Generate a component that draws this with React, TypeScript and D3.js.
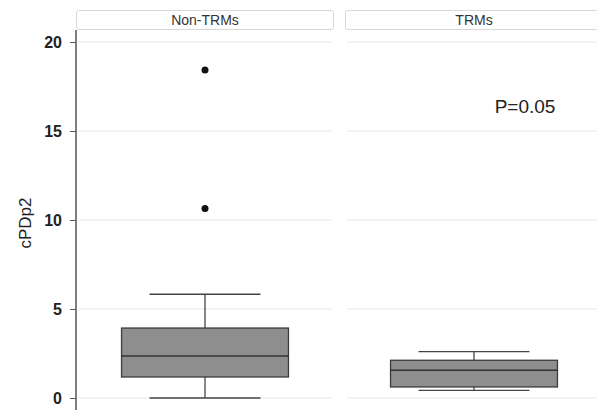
import * as d3 from "d3";
import { useEffect, useRef } from "react";

const groups = ["Non-TRMs", "TRMs"];
const whiskerLow = [0, 0.43];
const q1 = [1.18, 0.62];
const medians = [2.36, 1.56];
const q3 = [3.93, 2.12];
const whiskerHigh = [5.83, 2.6];
const outliers = [[18.43, 10.65], []];
const yTicks = [0, 5, 10, 15, 20];
const yLabel = "cPDp2";
const pLabel = "P=0.05";

const W = 597;
const H = 410;
const FONT = "'Liberation Sans', Arial, sans-serif";

export default function App() {
  const ref = useRef<SVGSVGElement | null>(null);

  useEffect(() => {
    if (!ref.current) return;
    const svg = d3.select(ref.current);
    svg.selectAll("*").remove();

    const x = d3.scaleBand<string>().domain(groups).range([76, 603]).paddingInner(11 / 269).paddingOuter(0);
    const y = d3.scaleLinear().domain([0, 20]).range([398, 42]);
    const bw = x.bandwidth();
    const boxW = bw * 0.647;
    const capW = bw * 0.43;

    // strips + grid per panel
    groups.forEach((g) => {
      const x0 = x(g) as number;
      svg
        .append("rect")
        .attr("x", x0 + 0.5)
        .attr("y", 10.5)
        .attr("width", bw - 1)
        .attr("height", 19)
        .attr("rx", 2)
        .attr("fill", "#fff")
        .attr("stroke", "#d8d8d8");
      svg
        .append("text")
        .attr("x", x0 + bw / 2)
        .attr("y", 25)
        .attr("text-anchor", "middle")
        .attr("font-family", FONT)
        .attr("font-size", 14)
        .attr("fill", "#333")
        .text(g);
      svg
        .append("g")
        .selectAll("line")
        .data(yTicks)
        .join("line")
        .attr("x1", x0 + 2)
        .attr("x2", x0 + bw - 2)
        .attr("y1", (d) => y(d))
        .attr("y2", (d) => y(d))
        .attr("stroke", "#e8e8e8")
        .attr("stroke-width", 1.2);
    });

    // y axis
    const axis = svg
      .append("g")
      .attr("transform", "translate(76,0)")
      .call(d3.axisLeft(y).tickValues(yTicks).tickSize(6).tickPadding(8).tickSizeOuter(0));
    axis.select(".domain").remove();
    axis
      .append("line")
      .attr("y1", 30)
      .attr("y2", H)
      .attr("stroke", "#555")
      .attr("stroke-width", 1.5);
    axis.selectAll(".tick line").attr("stroke", "#555");
    axis
      .selectAll(".tick text")
      .attr("font-family", FONT)
      .attr("font-size", 16)
      .attr("font-weight", "bold")
      .attr("fill", "#222");

    svg
      .append("text")
      .attr("transform", `translate(31,223) rotate(-90)`)
      .attr("text-anchor", "middle")
      .attr("font-family", FONT)
      .attr("font-size", 17)
      .attr("fill", "#222")
      .text(yLabel);

    // boxes
    groups.forEach((g, i) => {
      const cx = (x(g) as number) + bw / 2;
      const b = svg.append("g");
      b.append("line")
        .attr("x1", cx).attr("x2", cx)
        .attr("y1", y(whiskerHigh[i])).attr("y2", y(q3[i]))
        .attr("stroke", "#444").attr("stroke-width", 1.3);
      b.append("line")
        .attr("x1", cx).attr("x2", cx)
        .attr("y1", y(whiskerLow[i])).attr("y2", y(q1[i]))
        .attr("stroke", "#444").attr("stroke-width", 1.3);
      [whiskerHigh[i], whiskerLow[i]].forEach((v) =>
        b.append("line")
          .attr("x1", cx - capW / 2).attr("x2", cx + capW / 2)
          .attr("y1", y(v)).attr("y2", y(v))
          .attr("stroke", "#444").attr("stroke-width", 1.3)
      );
      b.append("rect")
        .attr("x", cx - boxW / 2)
        .attr("width", boxW)
        .attr("y", y(q3[i]))
        .attr("height", y(q1[i]) - y(q3[i]))
        .attr("fill", "#8e8e8e")
        .attr("stroke", "#3c3c3c")
        .attr("stroke-width", 1.3);
      b.append("line")
        .attr("x1", cx - boxW / 2).attr("x2", cx + boxW / 2)
        .attr("y1", y(medians[i])).attr("y2", y(medians[i]))
        .attr("stroke", "#333").attr("stroke-width", 1.3);
      b.selectAll("circle")
        .data(outliers[i])
        .join("circle")
        .attr("cx", cx)
        .attr("cy", (d) => y(d))
        .attr("r", 3.5)
        .attr("fill", "#111");
    });

    svg
      .append("text")
      .attr("x", 525)
      .attr("y", 113)
      .attr("text-anchor", "middle")
      .attr("font-family", FONT)
      .attr("font-size", 19)
      .attr("fill", "#222")
      .text(pLabel);
  }, []);

  return (
    <svg
      ref={ref}
      width={W}
      height={H}
      style={{ position: "absolute", left: 0, top: 0, background: "#fff", display: "block" }}
    />
  );
}
